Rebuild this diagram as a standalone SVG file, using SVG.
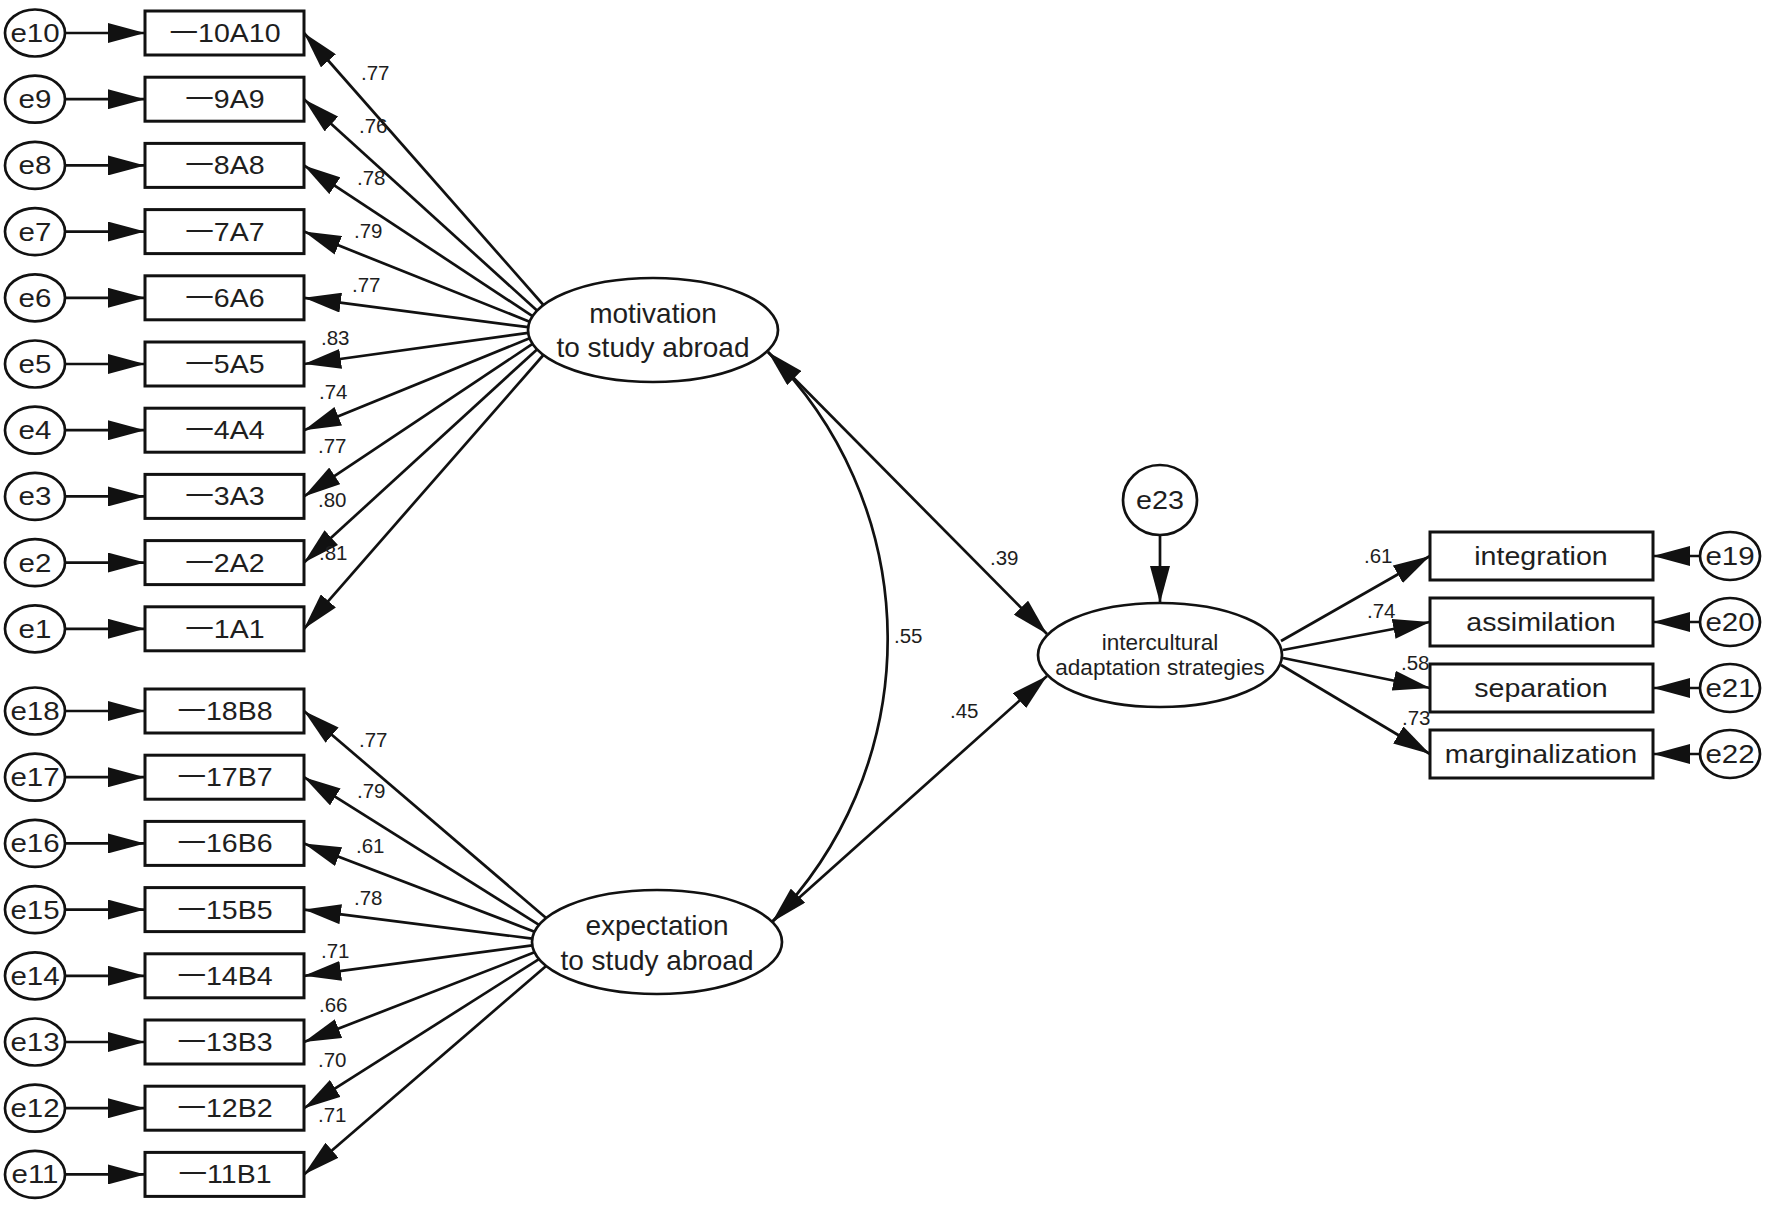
<svg xmlns="http://www.w3.org/2000/svg" width="1772" height="1206" viewBox="0 0 1772 1206">
<style>
.bg{fill:#fff}
.box{fill:#fff;stroke:#111;stroke-width:3}
.ell{fill:#fff;stroke:#111;stroke-width:2.7}
.ln{fill:none;stroke:#111;stroke-width:2.7}
text{font-family:"Liberation Sans","Noto Sans CJK SC",Arial,sans-serif;fill:#1e1e1e}
.el{font-size:25px;text-anchor:middle}
.bx{font-size:25.5px;text-anchor:middle}
.lat{font-size:28px;text-anchor:middle}
.ic{font-size:21.5px;text-anchor:middle}
.rb{font-size:26px;text-anchor:middle}
.num{font-size:20.5px}
</style>
<defs>
<marker id="ah" viewBox="0 0 37 20" refX="37" refY="10" markerWidth="37" markerHeight="20" markerUnits="userSpaceOnUse" orient="auto-start-reverse">
<path d="M0,0 L37,10 L0,20 z" fill="#111"/>
</marker>
</defs>
<rect class="bg" x="0" y="0" width="1772" height="1206"/>

<g id="connectors">
<line class="ln" x1="65" y1="33" x2="145" y2="33" marker-end="url(#ah)"/>
<line class="ln" x1="65" y1="99.2" x2="145" y2="99.2" marker-end="url(#ah)"/>
<line class="ln" x1="65" y1="165.4" x2="145" y2="165.4" marker-end="url(#ah)"/>
<line class="ln" x1="65" y1="231.6" x2="145" y2="231.6" marker-end="url(#ah)"/>
<line class="ln" x1="65" y1="297.8" x2="145" y2="297.8" marker-end="url(#ah)"/>
<line class="ln" x1="65" y1="364" x2="145" y2="364" marker-end="url(#ah)"/>
<line class="ln" x1="65" y1="430.2" x2="145" y2="430.2" marker-end="url(#ah)"/>
<line class="ln" x1="65" y1="496.4" x2="145" y2="496.4" marker-end="url(#ah)"/>
<line class="ln" x1="65" y1="562.6" x2="145" y2="562.6" marker-end="url(#ah)"/>
<line class="ln" x1="65" y1="628.8" x2="145" y2="628.8" marker-end="url(#ah)"/>
<line class="ln" x1="65" y1="711" x2="145" y2="711" marker-end="url(#ah)"/>
<line class="ln" x1="65" y1="777.2" x2="145" y2="777.2" marker-end="url(#ah)"/>
<line class="ln" x1="65" y1="843.4" x2="145" y2="843.4" marker-end="url(#ah)"/>
<line class="ln" x1="65" y1="909.6" x2="145" y2="909.6" marker-end="url(#ah)"/>
<line class="ln" x1="65" y1="975.8" x2="145" y2="975.8" marker-end="url(#ah)"/>
<line class="ln" x1="65" y1="1042" x2="145" y2="1042" marker-end="url(#ah)"/>
<line class="ln" x1="65" y1="1108.2" x2="145" y2="1108.2" marker-end="url(#ah)"/>
<line class="ln" x1="65" y1="1174.4" x2="145" y2="1174.4" marker-end="url(#ah)"/>
<line class="ln" x1="543.4" y1="305" x2="304" y2="33" marker-end="url(#ah)"/>
<line class="ln" x1="537" y1="310.6" x2="304" y2="99.2" marker-end="url(#ah)"/>
<line class="ln" x1="532.5" y1="316.1" x2="304" y2="165.4" marker-end="url(#ah)"/>
<line class="ln" x1="529.6" y1="321.7" x2="304" y2="231.6" marker-end="url(#ah)"/>
<line class="ln" x1="528.2" y1="327.2" x2="304" y2="297.8" marker-end="url(#ah)"/>
<line class="ln" x1="528.2" y1="332.8" x2="304" y2="364" marker-end="url(#ah)"/>
<line class="ln" x1="529.6" y1="338.3" x2="304" y2="430.2" marker-end="url(#ah)"/>
<line class="ln" x1="532.5" y1="343.9" x2="304" y2="496.4" marker-end="url(#ah)"/>
<line class="ln" x1="537" y1="349.4" x2="304" y2="562.6" marker-end="url(#ah)"/>
<line class="ln" x1="543.4" y1="355" x2="304" y2="628.8" marker-end="url(#ah)"/>
<line class="ln" x1="546.1" y1="918" x2="304" y2="711" marker-end="url(#ah)"/>
<line class="ln" x1="539" y1="924.9" x2="304" y2="777.2" marker-end="url(#ah)"/>
<line class="ln" x1="534.5" y1="931.7" x2="304" y2="843.4" marker-end="url(#ah)"/>
<line class="ln" x1="532.3" y1="938.6" x2="304" y2="909.6" marker-end="url(#ah)"/>
<line class="ln" x1="532.3" y1="945.4" x2="304" y2="975.8" marker-end="url(#ah)"/>
<line class="ln" x1="534.5" y1="952.3" x2="304" y2="1042" marker-end="url(#ah)"/>
<line class="ln" x1="539" y1="959.1" x2="304" y2="1108.2" marker-end="url(#ah)"/>
<line class="ln" x1="546.1" y1="966" x2="304" y2="1174.4" marker-end="url(#ah)"/>
<path class="ln" d="M768,352 A404,404 0 0 1 772,922" marker-start="url(#ah)" marker-end="url(#ah)"/>
<line class="ln" x1="768" y1="352" x2="1047" y2="634" marker-end="url(#ah)"/>
<line class="ln" x1="772" y1="922" x2="1047" y2="676" marker-end="url(#ah)"/>
<line class="ln" x1="1160" y1="535" x2="1160" y2="603" marker-end="url(#ah)"/>
<line class="ln" x1="1281" y1="641" x2="1430" y2="556" marker-end="url(#ah)"/>
<line class="ln" x1="1283" y1="650" x2="1430" y2="622" marker-end="url(#ah)"/>
<line class="ln" x1="1283" y1="658" x2="1430" y2="688" marker-end="url(#ah)"/>
<line class="ln" x1="1281" y1="665" x2="1430" y2="754" marker-end="url(#ah)"/>
<line class="ln" x1="1700" y1="556" x2="1653" y2="556" marker-end="url(#ah)"/>
<line class="ln" x1="1700" y1="622" x2="1653" y2="622" marker-end="url(#ah)"/>
<line class="ln" x1="1700" y1="688" x2="1653" y2="688" marker-end="url(#ah)"/>
<line class="ln" x1="1700" y1="754" x2="1653" y2="754" marker-end="url(#ah)"/>
<g class="num">
<text x="361" y="80">.77</text>
<text x="359" y="133">.76</text>
<text x="357" y="185">.78</text>
<text x="354" y="238">.79</text>
<text x="352" y="292">.77</text>
<text x="321" y="345">.83</text>
<text x="319" y="399">.74</text>
<text x="318" y="453">.77</text>
<text x="318" y="507">.80</text>
<text x="319" y="560">.81</text>
<text x="359" y="747">.77</text>
<text x="357" y="798">.79</text>
<text x="356" y="853">.61</text>
<text x="354" y="905">.78</text>
<text x="321" y="958">.71</text>
<text x="319" y="1012">.66</text>
<text x="318" y="1067">.70</text>
<text x="318" y="1122">.71</text>
<text x="894" y="643">.55</text>
<text x="990" y="565">.39</text>
<text x="950" y="718">.45</text>
<text x="1364" y="563">.61</text>
<text x="1367" y="618">.74</text>
<text x="1401" y="670">.58</text>
<text x="1402" y="725">.73</text>
</g>
</g>

<g id="e10"><ellipse class="ell" cx="35" cy="33" rx="30" ry="23.5"/><text class="el" transform="translate(35 42) scale(1.18 1)">e10</text></g>
<g id="e9"><ellipse class="ell" cx="35" cy="99.2" rx="30" ry="23.5"/><text class="el" transform="translate(35 108.2) scale(1.18 1)">e9</text></g>
<g id="e8"><ellipse class="ell" cx="35" cy="165.4" rx="30" ry="23.5"/><text class="el" transform="translate(35 174.4) scale(1.18 1)">e8</text></g>
<g id="e7"><ellipse class="ell" cx="35" cy="231.6" rx="30" ry="23.5"/><text class="el" transform="translate(35 240.6) scale(1.18 1)">e7</text></g>
<g id="e6"><ellipse class="ell" cx="35" cy="297.8" rx="30" ry="23.5"/><text class="el" transform="translate(35 306.8) scale(1.18 1)">e6</text></g>
<g id="e5"><ellipse class="ell" cx="35" cy="364" rx="30" ry="23.5"/><text class="el" transform="translate(35 373) scale(1.18 1)">e5</text></g>
<g id="e4"><ellipse class="ell" cx="35" cy="430.2" rx="30" ry="23.5"/><text class="el" transform="translate(35 439.2) scale(1.18 1)">e4</text></g>
<g id="e3"><ellipse class="ell" cx="35" cy="496.4" rx="30" ry="23.5"/><text class="el" transform="translate(35 505.4) scale(1.18 1)">e3</text></g>
<g id="e2"><ellipse class="ell" cx="35" cy="562.6" rx="30" ry="23.5"/><text class="el" transform="translate(35 571.6) scale(1.18 1)">e2</text></g>
<g id="e1"><ellipse class="ell" cx="35" cy="628.8" rx="30" ry="23.5"/><text class="el" transform="translate(35 637.8) scale(1.18 1)">e1</text></g>
<g id="e18"><ellipse class="ell" cx="35" cy="711" rx="30" ry="23.5"/><text class="el" transform="translate(35 720) scale(1.18 1)">e18</text></g>
<g id="e17"><ellipse class="ell" cx="35" cy="777.2" rx="30" ry="23.5"/><text class="el" transform="translate(35 786.2) scale(1.18 1)">e17</text></g>
<g id="e16"><ellipse class="ell" cx="35" cy="843.4" rx="30" ry="23.5"/><text class="el" transform="translate(35 852.4) scale(1.18 1)">e16</text></g>
<g id="e15"><ellipse class="ell" cx="35" cy="909.6" rx="30" ry="23.5"/><text class="el" transform="translate(35 918.6) scale(1.18 1)">e15</text></g>
<g id="e14"><ellipse class="ell" cx="35" cy="975.8" rx="30" ry="23.5"/><text class="el" transform="translate(35 984.8) scale(1.18 1)">e14</text></g>
<g id="e13"><ellipse class="ell" cx="35" cy="1042" rx="30" ry="23.5"/><text class="el" transform="translate(35 1051) scale(1.18 1)">e13</text></g>
<g id="e12"><ellipse class="ell" cx="35" cy="1108.2" rx="30" ry="23.5"/><text class="el" transform="translate(35 1117.2) scale(1.18 1)">e12</text></g>
<g id="e11"><ellipse class="ell" cx="35" cy="1174.4" rx="30" ry="23.5"/><text class="el" transform="translate(35 1183.4) scale(1.18 1)">e11</text></g>

<g id="A10"><rect class="box" x="145" y="11" width="159" height="44"/><text class="bx" transform="translate(225 42) scale(1.12 1)">一10A10</text></g>
<g id="A9"><rect class="box" x="145" y="77.2" width="159" height="44"/><text class="bx" transform="translate(225 108.2) scale(1.12 1)">一9A9</text></g>
<g id="A8"><rect class="box" x="145" y="143.4" width="159" height="44"/><text class="bx" transform="translate(225 174.4) scale(1.12 1)">一8A8</text></g>
<g id="A7"><rect class="box" x="145" y="209.6" width="159" height="44"/><text class="bx" transform="translate(225 240.6) scale(1.12 1)">一7A7</text></g>
<g id="A6"><rect class="box" x="145" y="275.8" width="159" height="44"/><text class="bx" transform="translate(225 306.8) scale(1.12 1)">一6A6</text></g>
<g id="A5"><rect class="box" x="145" y="342" width="159" height="44"/><text class="bx" transform="translate(225 373) scale(1.12 1)">一5A5</text></g>
<g id="A4"><rect class="box" x="145" y="408.2" width="159" height="44"/><text class="bx" transform="translate(225 439.2) scale(1.12 1)">一4A4</text></g>
<g id="A3"><rect class="box" x="145" y="474.4" width="159" height="44"/><text class="bx" transform="translate(225 505.4) scale(1.12 1)">一3A3</text></g>
<g id="A2"><rect class="box" x="145" y="540.6" width="159" height="44"/><text class="bx" transform="translate(225 571.6) scale(1.12 1)">一2A2</text></g>
<g id="A1"><rect class="box" x="145" y="606.8" width="159" height="44"/><text class="bx" transform="translate(225 637.8) scale(1.12 1)">一1A1</text></g>
<g id="B8"><rect class="box" x="145" y="689" width="159" height="44"/><text class="bx" transform="translate(225 720) scale(1.12 1)">一18B8</text></g>
<g id="B7"><rect class="box" x="145" y="755.2" width="159" height="44"/><text class="bx" transform="translate(225 786.2) scale(1.12 1)">一17B7</text></g>
<g id="B6"><rect class="box" x="145" y="821.4" width="159" height="44"/><text class="bx" transform="translate(225 852.4) scale(1.12 1)">一16B6</text></g>
<g id="B5"><rect class="box" x="145" y="887.6" width="159" height="44"/><text class="bx" transform="translate(225 918.6) scale(1.12 1)">一15B5</text></g>
<g id="B4"><rect class="box" x="145" y="953.8" width="159" height="44"/><text class="bx" transform="translate(225 984.8) scale(1.12 1)">一14B4</text></g>
<g id="B3"><rect class="box" x="145" y="1020" width="159" height="44"/><text class="bx" transform="translate(225 1051) scale(1.12 1)">一13B3</text></g>
<g id="B2"><rect class="box" x="145" y="1086.2" width="159" height="44"/><text class="bx" transform="translate(225 1117.2) scale(1.12 1)">一12B2</text></g>
<g id="B1"><rect class="box" x="145" y="1152.4" width="159" height="44"/><text class="bx" transform="translate(225 1183.4) scale(1.12 1)">一11B1</text></g>

<g id="motivation"><ellipse class="ell" cx="653" cy="330" rx="125" ry="52"/><text class="lat" x="653" y="323">motivation</text><text class="lat" x="653" y="357">to study abroad</text></g>
<g id="expectation"><ellipse class="ell" cx="657" cy="942" rx="125" ry="52"/><text class="lat" x="657" y="935">expectation</text><text class="lat" x="657" y="970">to study abroad</text></g>
<g id="intercultural"><ellipse class="ell" cx="1160" cy="655" rx="122" ry="52"/><text class="ic" transform="translate(1160 650) scale(1.05 1)">intercultural</text><text class="ic" transform="translate(1160 675) scale(1.05 1)">adaptation strategies</text></g>
<g id="e23"><ellipse class="ell" cx="1160" cy="500" rx="37" ry="35"/><text class="el" transform="translate(1160 509) scale(1.15 1)">e23</text></g>

<g id="integration"><rect class="box" x="1430" y="532" width="223" height="48"/><text class="rb" transform="translate(1541 565) scale(1.1 1)">integration</text></g>
<g id="assimilation"><rect class="box" x="1430" y="598" width="223" height="48"/><text class="rb" transform="translate(1541 631) scale(1.1 1)">assimilation</text></g>
<g id="separation"><rect class="box" x="1430" y="664" width="223" height="48"/><text class="rb" transform="translate(1541 697) scale(1.1 1)">separation</text></g>
<g id="marginalization"><rect class="box" x="1430" y="730" width="223" height="48"/><text class="rb" transform="translate(1541 763) scale(1.1 1)">marginalization</text></g>
<g id="e19"><ellipse class="ell" cx="1730" cy="556" rx="30" ry="24"/><text class="el" transform="translate(1730 565) scale(1.18 1)">e19</text></g>
<g id="e20"><ellipse class="ell" cx="1730" cy="622" rx="30" ry="24"/><text class="el" transform="translate(1730 631) scale(1.18 1)">e20</text></g>
<g id="e21"><ellipse class="ell" cx="1730" cy="688" rx="30" ry="24"/><text class="el" transform="translate(1730 697) scale(1.18 1)">e21</text></g>
<g id="e22"><ellipse class="ell" cx="1730" cy="754" rx="30" ry="24"/><text class="el" transform="translate(1730 763) scale(1.18 1)">e22</text></g>
</svg>
